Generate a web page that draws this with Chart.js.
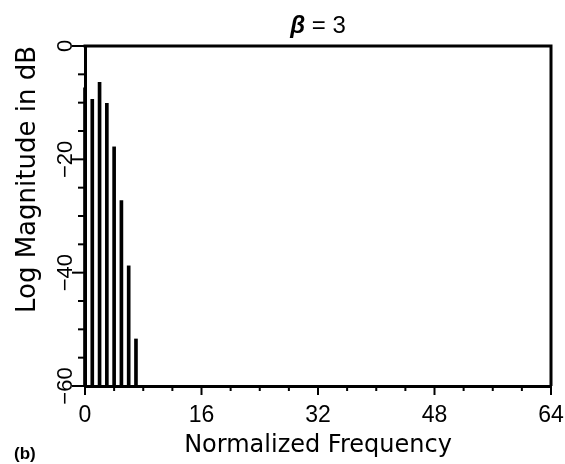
<!DOCTYPE html>
<html>
<head>
<meta charset="utf-8">
<script src="https://cdn.jsdelivr.net/npm/chart.js@4/dist/chart.umd.min.js"></script>
<style>
  html, body { margin: 0; padding: 0; background: #fff; }
  #wrap { width: 565px; height: 464px; }
</style>
</head>
<body>
<div id="wrap"><canvas id="c" width="565" height="464"></canvas></div>
<script>
// ---- data ----
const freqs   = [0, 1, 2, 3, 4, 5, 6, 7];
const magsDb  = [-7.4, -9.4, -6.4, -10.1, -17.8, -27.3, -38.8, -51.7];
const xTicks  = [0, 16, 32, 48, 64];
const yTicks  = [0, -20, -40, -60];
const yMin = -60, yMax = 0, xMin = 0, xMax = 64;
const xMinorStep = 4, yMinorStep = 5;

const titleSymbol = 'β';
const titleRest = ' = 3';
const xTitle = 'Normalized Frequency';
const yTitle = 'Log Magnitude in dB';
const panelLabel = '(b)';

const AX_FONT = '"DejaVu Sans", sans-serif';
const NUM_FONT = '"Liberation Sans", Arial, sans-serif';

const fmt = v => (v < 0 ? '\u2212' + Math.abs(v) : String(v));

const axisDecor = {
  id: 'axisDecor',
  afterDraw(chart) {
    const { ctx, scales: { x, y }, chartArea: a } = chart;
    ctx.save();
    ctx.strokeStyle = '#000';
    // frame (top & right)
    ctx.lineWidth = 3;
    ctx.beginPath();
    ctx.moveTo(a.left - 1.5, a.top);
    ctx.lineTo(a.right, a.top);
    ctx.lineTo(a.right, a.bottom);
    ctx.stroke();
    // x tick marks
    ctx.lineWidth = 2;
    for (let v = xMin; v <= xMax; v += xMinorStep) {
      const px = x.getPixelForValue(v);
      const len = xTicks.includes(v) ? 9 : 5;
      ctx.beginPath(); ctx.moveTo(px, a.bottom); ctx.lineTo(px, a.bottom + len); ctx.stroke();
    }
    // y tick marks
    for (let v = yMax; v >= yMin; v -= yMinorStep) {
      const py = y.getPixelForValue(v);
      const len = yTicks.includes(v) ? 13 : 7;
      ctx.beginPath(); ctx.moveTo(a.left - len, py); ctx.lineTo(a.left, py); ctx.stroke();
    }
    // y tick labels (rotated)
    ctx.fillStyle = '#000';
    ctx.font = '22px ' + NUM_FONT;
    ctx.textAlign = 'center';
    ctx.textBaseline = 'alphabetic';
    yTicks.forEach(v => {
      const py = y.getPixelForValue(v);
      ctx.save();
      ctx.translate(a.left - 13, py);
      ctx.rotate(-Math.PI / 2);
      ctx.fillText(fmt(v), 0, 0);
      ctx.restore();
    });
    // title: italic symbol + upright rest, centred over the plot
    const cx = (a.left + a.right) / 2;
    const fSym = 'italic bold 24px ' + NUM_FONT;
    const fRest = '24px ' + NUM_FONT;
    ctx.font = fSym; const w1 = ctx.measureText(titleSymbol).width;
    ctx.font = fRest; const w2 = ctx.measureText(titleRest).width;
    let tx = cx - (w1 + w2) / 2;
    ctx.textAlign = 'left';
    ctx.font = fSym; ctx.fillText(titleSymbol, tx, 33);
    ctx.font = fRest; ctx.fillText(titleRest, tx + w1, 33);
    // panel label
    ctx.font = 'bold 17px ' + NUM_FONT;
    ctx.fillText(panelLabel, 14, 459);
    ctx.restore();
  }
};

new Chart(document.getElementById('c'), {
  type: 'bar',
  data: {
    datasets: [{
      data: freqs.map((f, i) => ({ x: f, y: [yMin, magsDb[i]] })),
      backgroundColor: '#000',
      borderWidth: 0,
      barThickness: 3,
      clip: false
    }]
  },
  options: {
    responsive: false,
    animation: false,
    layout: { padding: { left: 0, right: 14, top: 46, bottom: 0 } },
    plugins: {
      legend: { display: false },
      tooltip: { enabled: false },
      title: { display: false }
    },
    scales: {
      x: {
        type: 'linear',
        offset: false,
        min: xMin, max: xMax,
        afterBuildTicks: s => { s.ticks = xTicks.map(v => ({ value: v })); },
        afterFit: s => { s.height = 78; s.paddingLeft = 0; s.paddingRight = 0; },
        grid: { display: true, offset: false, drawOnChartArea: false, drawTicks: false },
        border: { display: true, color: '#000', width: 3 },
        ticks: { color: '#000', font: { family: NUM_FONT, size: 23 }, padding: 16, maxRotation: 0 },
        title: {
          display: true, text: xTitle, color: '#000',
          font: { family: AX_FONT, size: 24 },
          padding: { top: 0, bottom: 4 }
        }
      },
      y: {
        type: 'linear',
        min: yMin, max: yMax,
        afterFit: s => { s.width = 85; s.paddingTop = 0; s.paddingBottom = 0; },
        grid: { display: true, drawOnChartArea: false, drawTicks: false },
        border: { display: true, color: '#000', width: 3 },
        ticks: { display: false, stepSize: 20 },
        title: {
          display: true, text: yTitle, color: '#000', align: 'end',
          font: { family: AX_FONT, size: 26 },
          padding: { top: 13, bottom: 0 }
        }
      }
    }
  },
  plugins: [axisDecor]
});
</script>
</body>
</html>
